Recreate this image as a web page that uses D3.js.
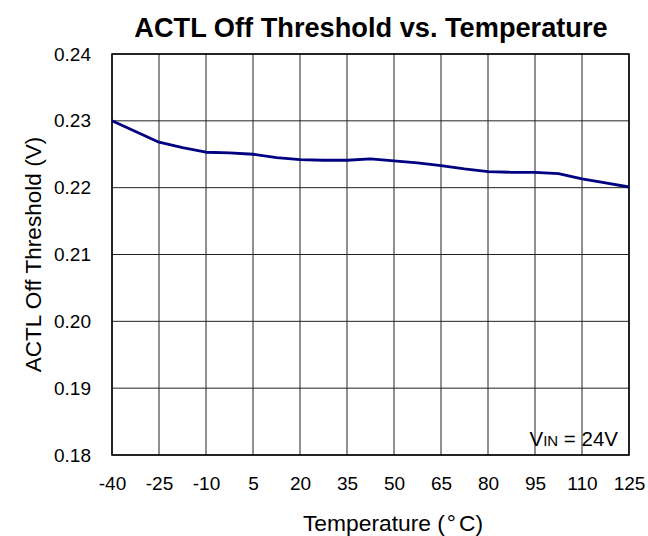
<!DOCTYPE html>
<html>
<head>
<meta charset="utf-8">
<script src="https://cdn.jsdelivr.net/npm/d3@7"></script>
<style>
  body { margin: 0; background: #fff; }
  svg { display: block; font-family: "Liberation Sans", Arial, sans-serif; }
</style>
</head>
<body>
<svg width="648" height="536"></svg>
<script>
// temperature (°C) and threshold (V)
const temps = [-40, -32.5, -25, -17.5, -10, -2.5, 5, 12.5, 20, 27.5, 35, 42.5, 50, 57.5, 65, 72.5, 80, 87.5, 95, 102.5, 110, 117.5, 125];
const thresh = [0.2300, 0.2284, 0.2268, 0.2260, 0.2253, 0.2252, 0.2250, 0.2245, 0.2242, 0.2241, 0.2241, 0.2243, 0.2240, 0.2237, 0.2233, 0.2228, 0.2224, 0.2223, 0.2223, 0.2221, 0.2213, 0.2207, 0.2201];
const xTicks = [-40, -25, -10, 5, 20, 35, 50, 65, 80, 95, 110, 125];
const yTicks = [0.18, 0.19, 0.20, 0.21, 0.22, 0.23, 0.24];

function main(){
  const svg = d3.select("svg");
  const left = 112, right = 629, top = 54, bottom = 455;

  const x = d3.scaleLinear().domain([-40, 125]).range([left, right]);
  const y = d3.scaleLinear().domain([0.18, 0.24]).range([bottom, top]);

  // grid
  svg.append("g").selectAll("line").data(xTicks).enter().append("line")
    .attr("x1", d => x(d)).attr("x2", d => x(d)).attr("y1", top).attr("y2", bottom)
    .attr("stroke", "#222").attr("stroke-width", 1);
  svg.append("g").selectAll("line").data(yTicks).enter().append("line")
    .attr("x1", left).attr("x2", right).attr("y1", d => y(d)).attr("y2", d => y(d))
    .attr("stroke", "#222").attr("stroke-width", 1);

  // axes, only used for labels (plain hyphen for negatives)
  const xAxis = d3.axisBottom(x).tickValues(xTicks).tickSize(0).tickPadding(22).tickFormat(d => String(d));
  const yAxis = d3.axisLeft(y).tickValues(yTicks).tickSize(0).tickPadding(21).tickFormat(d3.format(".2f"));
  const gx = svg.append("g").attr("transform", `translate(0,${bottom})`).call(xAxis);
  const gy = svg.append("g").attr("transform", `translate(${left},0)`).call(yAxis);
  [gx, gy].forEach(g => {
    g.select(".domain").remove();
    g.selectAll("text").attr("font-size", 19).attr("fill", "#000").attr("font-family", "Liberation Sans, Arial, sans-serif");
  });

  // frame
  svg.append("rect").attr("x", left).attr("y", top).attr("width", right - left).attr("height", bottom - top)
    .attr("fill", "none").attr("stroke", "#000").attr("stroke-width", 1.5);

  // curve
  const line = d3.line().x(d => x(d[0])).y(d => y(d[1]));
  svg.append("path").datum(temps.map((t, i) => [t, thresh[i]]))
    .attr("d", line).attr("fill", "none").attr("stroke", "#000080").attr("stroke-width", 2.8)
    .attr("stroke-linejoin", "round");

  // titles
  svg.append("text").attr("x", 371).attr("y", 37).attr("text-anchor", "middle")
    .attr("font-size", 27.2).attr("font-weight", "bold").text("ACTL Off Threshold vs. Temperature");
  const xt = svg.append("text").attr("x", 393).attr("y", 531).attr("text-anchor", "middle")
    .attr("font-size", 22.8);
  xt.append("tspan").text("Temperature (");
  xt.append("tspan").attr("dx", 2).text("°");
  xt.append("tspan").attr("dx", 3).text("C)");
  svg.append("text").attr("transform", `translate(41,${(top + bottom) / 2}) rotate(-90)`)
    .attr("text-anchor", "middle").attr("font-size", 22.6).text("ACTL Off Threshold (V)");

  // annotation
  const note = svg.append("text").attr("x", 618).attr("y", 446).attr("text-anchor", "end").attr("font-size", 20.5);
  note.append("tspan").text("V");
  note.append("tspan").attr("font-size", 15).text("IN");
  note.append("tspan").text(" = 24V");
}

main();
</script>
</body>
</html>
